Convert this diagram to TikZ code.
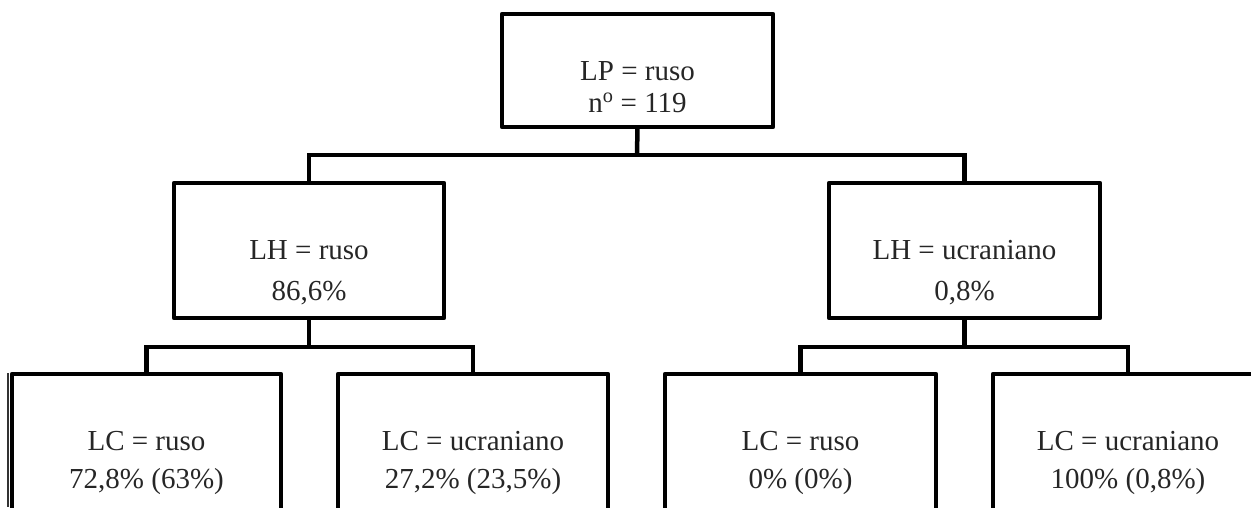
\documentclass[tikz,border=0pt]{standalone}
\usepackage{fontspec}
\setmainfont{Liberation Serif}
\begin{document}
\begin{tikzpicture}[x=1pt,y=-1pt,
  box/.style={draw=black,line width=4.5pt,rectangle,outer sep=0pt,inner sep=0pt,line join=round},
  conn/.style={draw=black,line width=4.5pt,line join=miter},
  txt/.style={anchor=base,inner sep=0pt,font=\fontsize{29}{35}\selectfont,text=black!85}]
\useasboundingbox (0,0) rectangle (1251,507);
\clip (0,0) rectangle (1251,507);
% boxes
\node[box,minimum width=271pt,minimum height=113pt] (top) at (637.5,70.5) {};
\node[box,minimum width=270pt,minimum height=135pt] (lhA) at (309,250.5) {};
\node[box,minimum width=271pt,minimum height=135pt] (lhB) at (964.5,250.5) {};
\node[box,minimum width=269pt,minimum height=200pt] (lcA) at (146.5,474) {};
\node[box,minimum width=270pt,minimum height=200pt] (lcB) at (473,474) {};
\node[box,minimum width=271pt,minimum height=200pt] (lcC) at (800.5,474) {};
\node[box,minimum width=270pt,minimum height=200pt] (lcD) at (1128,474) {};
% junctions
\coordinate (j0) at (637,155);
\coordinate (jA) at (309,347);
\coordinate (jB) at (964.5,347);
% connectors
\draw[conn] (top.south) -- (j0);
\draw[conn] (lhA.north) |- (j0) -| (lhB.north);
\draw[conn] (lhA.south) -- (jA);
\draw[conn] (lcA.north) |- (jA) -| (lcB.north);
\draw[conn] (lhB.south) -- (jB);
\draw[conn] (lcC.north) |- (jB) -| (lcD.north);
% thin left edge line
\coordinate (e1) at (8,373);
\coordinate (e2) at (8,507);
\draw[line width=1.2pt,black!80] (e1) -- (e2);
% texts
\node[txt] (t0a) at (637.5,80) {LP = ruso};
\node[txt] (t0b) at (637.5,112) {n\textsuperscript{o} = 119};
\node[txt] (tAa) at (309,259) {LH = ruso};
\node[txt] (tAb) at (309,300) {86,6\%};
\node[txt] (tBa) at (964.5,259) {LH = ucraniano};
\node[txt] (tBb) at (964.5,300) {0,8\%};
\node[txt] (tCAa) at (146.5,450) {LC = ruso};
\node[txt] (tCAb) at (146.5,488) {72,8\% (63\%)};
\node[txt] (tCBa) at (473,450) {LC = ucraniano};
\node[txt] (tCBb) at (473,488) {27,2\% (23,5\%)};
\node[txt] (tCCa) at (800.5,450) {LC = ruso};
\node[txt] (tCCb) at (800.5,488) {0\% (0\%)};
\node[txt] (tCDa) at (1128,450) {LC = ucraniano};
\node[txt] (tCDb) at (1128,488) {100\% (0,8\%)};
\end{tikzpicture}
\end{document}
